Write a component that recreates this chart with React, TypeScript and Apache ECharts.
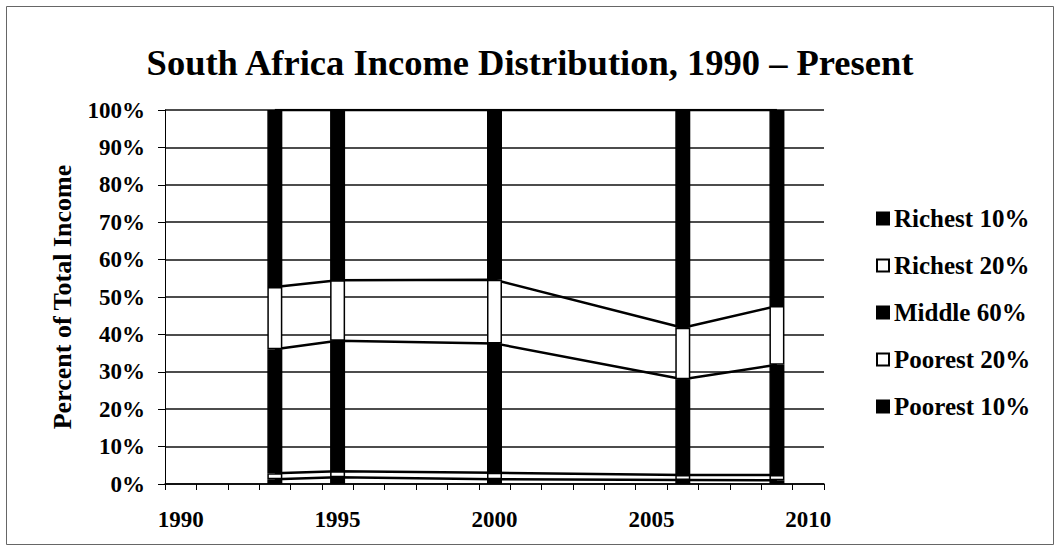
import React, { useEffect, useRef } from "react";
import * as echarts from "echarts";

// Year axis (one category per year) and the survey years that carry a bar
const categories = [
  "1990", "1991", "1992", "1993", "1994", "1995", "1996", "1997", "1998", "1999", "2000",
  "2001", "2002", "2003", "2004", "2005", "2006", "2007", "2008", "2009", "2010",
];
const surveyYears = ["1993", "1995", "2000", "2006", "2009"];

// Share of total income (%) per group, bottom of the stack first
const poorest10 = [1.3, 1.8, 1.3, 1.1, 1.0];
const poorest20 = [1.6, 1.6, 1.7, 1.3, 1.4];
const middle60 = [33.1, 34.9, 34.6, 25.6, 29.5];
const richest20 = [16.7, 16.2, 17.0, 13.8, 15.7];
const richest10 = [47.3, 45.5, 45.4, 58.2, 52.4];

const groupNames = ["Poorest 10%", "Poorest 20%", "Middle 60%", "Richest 20%", "Richest 10%"];
const groupFills = ["#000000", "#ffffff", "#000000", "#ffffff", "#000000"];

const titleText = "South Africa Income Distribution, 1990 – Present";
const yAxisTitle = "Percent of Total Income";

const FONT = "'Liberation Serif', 'Times New Roman', serif";

function spread(values: number[]): (number | null)[] {
  return categories.map((c) => {
    const i = surveyYears.indexOf(c);
    return i >= 0 ? values[i] : null;
  });
}

export default function App() {
  const ref = useRef<HTMLDivElement>(null);

  useEffect(() => {
    if (!ref.current) return;
    const chart = echarts.init(ref.current, undefined, { renderer: "svg" });

    const groups = [poorest10, poorest20, middle60, richest20, richest10];

    // running totals: the top edge of each group, joined between bars
    const tops: number[][] = [];
    groups.forEach((vals, k) => {
      tops.push(vals.map((v, i) => +(v + (k > 0 ? tops[k - 1][i] : 0)).toFixed(2)));
    });

    const barSeries = groups.map((vals, k) => ({
      name: groupNames[k],
      type: "bar",
      stack: "share",
      barWidth: 15,
      z: 3,
      data: spread(vals),
      itemStyle: { color: groupFills[k], borderColor: "#000", borderWidth: 1.5 },
      emphasis: { disabled: true },
    }));

    const lineSeries = tops.map((vals, k) => ({
      name: groupNames[k] + " top",
      type: "line",
      z: 2,
      data: spread(vals),
      connectNulls: true,
      symbol: "none",
      silent: true,
      lineStyle: { color: "#000", width: 2.5 },
    }));

    chart.setOption({
      animation: false,
      backgroundColor: "#ffffff",
      title: {
        text: titleText,
        left: "center",
        top: 39,
        textStyle: { fontFamily: FONT, fontSize: 36.5, fontWeight: "bold", color: "#000" },
      },
      legend: {
        orient: "vertical",
        left: 876,
        top: 206,
        padding: 0,
        itemWidth: 12,
        itemHeight: 12,
        itemGap: 22,
        icon: "rect",
        data: [...groupNames].reverse(),
        textStyle: { fontFamily: FONT, fontSize: 25, fontWeight: "bold", color: "#000" },
      },
      grid: { left: 165, right: 236, top: 110, bottom: 67, containLabel: false },
      xAxis: {
        type: "category",
        data: categories,
        boundaryGap: true,
        axisLine: { lineStyle: { color: "#000", width: 1.5 } },
        axisTick: { show: true, interval: 0, length: 6, alignWithLabel: false, lineStyle: { color: "#000" } },
        axisLabel: {
          interval: 4,
          margin: 24,
          fontFamily: FONT,
          fontSize: 23,
          fontWeight: "bold",
          color: "#000",
        },
        splitLine: { show: false },
      },
      yAxis: {
        type: "value",
        min: 0,
        max: 100,
        interval: 10,
        name: yAxisTitle,
        nameLocation: "middle",
        nameGap: 90,
        nameTextStyle: { fontFamily: FONT, fontSize: 26, fontWeight: "bold", color: "#000" },
        axisLine: { show: true, lineStyle: { color: "#000", width: 1 } },
        axisTick: { show: true, length: 7, lineStyle: { color: "#000" } },
        axisLabel: {
          formatter: "{value}%",
          margin: 20,
          fontFamily: FONT,
          fontSize: 23,
          fontWeight: "bold",
          color: "#000",
        },
        splitLine: { show: true, lineStyle: { color: "#111", width: 1.5 } },
      },
      graphic: [
        {
          type: "rect",
          shape: { x: 6.5, y: 6.5, width: 1047, height: 538 },
          style: { fill: "none", stroke: "#666", lineWidth: 1 },
          silent: true,
        },
      ],
      series: [...lineSeries, ...barSeries],
    });

    return () => chart.dispose();
  }, []);

  return (
    <div
      ref={ref}
      style={{ position: "absolute", left: 0, top: 0, width: 1060, height: 551, background: "#fff" }}
    />
  );
}
